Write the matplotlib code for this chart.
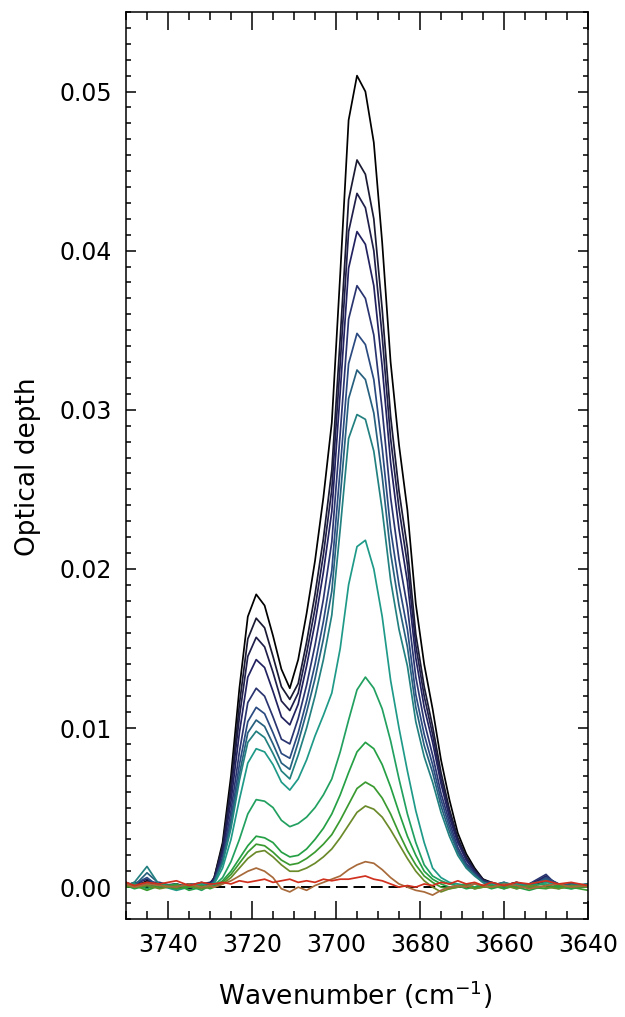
import numpy as np
import matplotlib
matplotlib.use("Agg")
from matplotlib import pyplot as plt
from matplotlib.ticker import MultipleLocator

#%% data: optical depth spectra, values in units of 1e-3

wavenumber = [3750, 3748, 3745, 3742, 3738, 3735, 3732, 3730,
              3729, 3727, 3725, 3723, 3721, 3719, 3717, 3715, 3713, 3711,
              3709, 3707, 3705, 3703, 3701, 3699, 3697, 3695, 3693, 3691,
              3689, 3687, 3685, 3683, 3681, 3679, 3677, 3675, 3673, 3671,
              3669, 3667, 3665,
              3663, 3660, 3657, 3654, 3650, 3647, 3644, 3640]

tau_00 = [0.2, 0.0, 0.4, 0.1, -0.1, 0.2, 0.0, 0.2,
          0.6, 2.8, 7.0, 12.5, 17.0, 18.4, 17.7, 15.8, 13.7, 12.5,
          14.3, 17.2, 20.5, 24.5, 29.2, 38.5, 48.2, 51.0, 50.0, 46.8,
          40.5, 33.0, 27.8, 23.7, 17.8, 14.0, 11.2, 8.0, 5.5, 3.4,
          2.1, 1.2, 0.5,
          0.3, 0.1, 0.3, 0.0, 0.4, 0.1, 0.2, 0.0]
tau_01 = [0.1, 0.3, 0.2, 0.0, 0.2, -0.1, 0.1, 0.2,
          0.6, 2.6, 6.4, 11.5, 15.6, 16.9, 16.3, 14.5, 12.6, 11.8,
          12.8, 15.4, 18.4, 21.9, 26.2, 34.5, 43.2, 45.7, 44.8, 42.0,
          36.3, 29.6, 24.9, 21.3, 15.9, 12.6, 10.1, 7.2, 4.9, 3.1,
          1.9, 1.1, 0.5,
          0.2, 0.0, 0.2, 0.1, 0.5, 0.0, 0.2, 0.1]
tau_02 = [0.3, 0.1, 0.3, 0.2, 0.0, 0.1, 0.3, 0.1,
          0.5, 2.4, 6.0, 10.7, 14.5, 15.7, 15.1, 13.5, 11.7, 11.1,
          12.2, 14.7, 17.5, 20.9, 25.0, 32.9, 41.2, 43.6, 42.7, 40.0,
          34.6, 28.2, 23.8, 20.3, 15.2, 12.0, 9.6, 6.8, 4.7, 2.9,
          1.8, 1.0, 0.4,
          0.1, 0.3, 0.0, 0.2, 0.6, 0.2, 0.0, 0.2]
tau_03 = [0.0, 0.2, 0.5, 0.1, 0.2, 0.0, 0.2, 0.3,
          0.5, 2.2, 5.4, 9.7, 13.2, 14.3, 13.8, 12.3, 10.7, 10.2,
          11.5, 13.9, 16.6, 19.8, 23.6, 31.1, 38.9, 41.2, 40.4, 37.8,
          32.7, 26.7, 22.5, 19.2, 14.4, 11.3, 9.1, 6.5, 4.4, 2.8,
          1.7, 1.0, 0.4,
          0.2, 0.1, 0.3, 0.1, 0.7, 0.1, 0.1, 0.0]
tau_04 = [0.2, 0.0, 0.3, 0.3, 0.0, 0.2, 0.1, 0.0,
          0.4, 1.9, 4.8, 8.5, 11.6, 12.5, 12.0, 10.7, 9.3, 9.0,
          10.6, 12.7, 15.2, 18.1, 21.7, 28.5, 35.7, 37.8, 37.0, 34.7,
          30.0, 24.5, 20.6, 17.6, 13.2, 10.4, 8.3, 5.9, 4.1, 2.5,
          1.5, 0.9, 0.4,
          0.3, 0.0, 0.2, 0.2, 0.8, 0.0, 0.2, 0.1]
tau_05 = [0.1, 0.2, 0.6, 0.0, 0.1, 0.1, 0.2, 0.1,
          0.4, 1.7, 4.3, 7.7, 10.4, 11.3, 10.9, 9.7, 8.4, 8.1,
          9.7, 11.7, 14.0, 16.7, 19.9, 26.3, 32.9, 34.8, 34.1, 31.9,
          27.6, 22.5, 19.0, 16.2, 12.1, 9.6, 7.7, 5.5, 3.8, 2.3,
          1.4, 0.8, 0.3,
          0.1, 0.2, 0.1, 0.0, 0.6, 0.2, 0.0, 0.2]
tau_06 = [0.2, 0.1, 0.9, 0.2, 0.0, 0.2, 0.1, 0.2,
          0.3, 1.6, 4.0, 7.1, 9.7, 10.5, 10.1, 9.0, 7.8, 7.4,
          9.1, 11.0, 13.1, 15.6, 18.6, 24.5, 30.7, 32.5, 31.9, 29.8,
          25.8, 21.0, 17.7, 15.1, 11.3, 8.9, 7.2, 5.1, 3.5, 2.2,
          1.3, 0.8, 0.3,
          0.2, 0.0, 0.2, 0.1, 0.5, 0.1, 0.2, 0.0]
tau_07 = [0.1, 0.3, 1.3, 0.1, 0.1, 0.0, 0.2, 0.1,
          0.3, 1.5, 3.7, 6.7, 9.1, 9.8, 9.4, 8.4, 7.3, 6.8,
          8.3, 10.0, 12.0, 14.3, 17.1, 22.5, 28.2, 29.7, 29.4, 27.4,
          23.7, 19.3, 16.2, 13.9, 10.4, 8.2, 6.6, 4.7, 3.2, 2.0,
          1.2, 0.7, 0.3,
          0.1, 0.3, 0.1, 0.2, 0.4, 0.0, 0.1, 0.2]
tau_08 = [0.2, 0.0, 0.2, 0.1, -0.2, 0.0, 0.2, 0.0,
          0.2, 1.2, 3.0, 5.5, 7.8, 8.7, 8.5, 7.7, 6.6, 6.1,
          6.8, 8.0, 9.5, 10.8, 12.2, 15.0, 19.0, 21.4, 21.8, 20.0,
          17.0, 13.0, 10.0, 7.3, 4.8, 2.8, 1.2, 0.6, 0.3, 0.2,
          0.1, 0.2, 0.0,
          0.2, -0.1, 0.2, 0.0, 0.3, 0.1, -0.1, 0.1]
tau_09 = [0.0, 0.2, -0.1, 0.2, 0.0, 0.1, -0.2, 0.1,
          0.1, 0.6, 1.6, 3.0, 4.6, 5.5, 5.4, 5.0, 4.2, 3.8,
          4.0, 4.4, 5.0, 5.8, 6.8, 8.5, 10.5, 12.4, 13.2, 12.5,
          11.2, 9.2, 6.8, 4.6, 2.8, 1.4, 0.7, 0.4, 0.2, 0.1,
          0.2, 0.0, 0.1,
          0.0, 0.2, -0.1, 0.1, 0.2, -0.1, 0.1, 0.0]
tau_10 = [0.1, -0.1, 0.1, 0.0, 0.2, -0.2, 0.0, 0.1,
          0.0, 0.4, 1.0, 1.8, 2.6, 3.2, 3.1, 2.8, 2.2, 1.9,
          2.0, 2.4, 3.0, 3.7, 4.6, 5.8, 7.2, 8.5, 9.1, 8.7,
          7.7, 6.3, 4.7, 3.2, 2.0, 1.0, 0.5, 0.2, 0.0, 0.1,
          -0.1, 0.0, 0.1,
          -0.1, 0.1, 0.0, -0.2, 0.1, 0.0, -0.1, 0.1]
tau_11 = [0.0, 0.1, -0.2, 0.1, -0.1, 0.0, 0.1, -0.1,
          0.0, 0.3, 0.8, 1.5, 2.2, 2.7, 2.6, 2.2, 1.7, 1.4,
          1.5, 1.8, 2.2, 2.7, 3.3, 4.2, 5.2, 6.2, 6.6, 6.3,
          5.6, 4.6, 3.4, 2.3, 1.4, 0.7, 0.3, 0.0, -0.1, 0.0,
          0.1, -0.1, 0.0,
          0.1, -0.1, 0.1, 0.0, -0.1, 0.1, 0.0, -0.2]
tau_12 = [0.1, 0.0, 0.1, -0.1, 0.1, 0.1, -0.1, 0.0,
          0.0, 0.2, 0.6, 1.2, 1.8, 2.2, 2.3, 1.9, 1.4, 1.0,
          1.0, 1.2, 1.5, 1.9, 2.4, 3.1, 3.9, 4.7, 5.1, 4.9,
          4.4, 3.6, 2.7, 1.8, 1.0, 0.4, 0.0, -0.3, -0.1, 0.0,
          0.1, -0.1, 0.0,
          0.0, 0.1, -0.1, 0.1, 0.0, -0.1, 0.1, 0.0]
tau_13 = [0.2, 0.0, 0.2, 0.1, 0.0, 0.2, 0.0, 0.1,
          0.0, 0.2, 0.4, 0.7, 1.0, 1.2, 1.0, 0.6, -0.1, -0.3,
          0.0, -0.2, 0.1, 0.3, 0.5, 0.7, 1.1, 1.4, 1.6, 1.5,
          1.1, 0.6, 0.2, 0.0, -0.2, -0.3, -0.5, -0.2, 0.0, 0.1,
          0.0, 0.2, 0.1,
          0.0, 0.2, 0.1, -0.1, 0.1, 0.2, 0.0, 0.1]
tau_14 = [0.3, 0.1, 0.3, 0.2, 0.4, 0.1, 0.3, 0.2,
          0.2, 0.3, 0.2, 0.4, 0.3, 0.4, 0.5, 0.3, 0.4, 0.5,
          0.3, 0.4, 0.3, 0.5, 0.4, 0.5, 0.5, 0.6, 0.7, 0.5,
          0.4, 0.2, 0.0, 0.1, 0.0, 0.2, 0.1, 0.3, 0.2, 0.4,
          0.2, 0.3, 0.1,
          0.3, 0.1, 0.3, 0.2, 0.4, 0.2, 0.3, 0.1]

spectra = [tau_00, tau_01, tau_02, tau_03, tau_04, tau_05, tau_06, tau_07,
           tau_08, tau_09, tau_10, tau_11, tau_12, tau_13, tau_14]
colors = ["#000000", "#1a1a33", "#1f1f4a", "#222260", "#2a3570",
          "#2a4a80", "#27607f", "#238080", "#1f9a88", "#22a060",
          "#25a045", "#3a9a30", "#6b8a2a", "#a86a3a", "#d0301e"]

#%%

fig = plt.figure(figsize=(6.25, 10.17), dpi=100)
ax = fig.add_axes([0.2016, 0.0964, 0.7392, 0.8918])

ax.axhline(0, color="k", lw=1.4, dashes=(6, 3), zorder=1)
for tau, col in zip(spectra, colors):
    ax.plot(wavenumber, np.array(tau) * 1e-3, color=col, lw=1.25, zorder=2)

ax.set_xlim(3750, 3640)
ax.set_ylim(-0.002, 0.055)

ax.xaxis.set_major_locator(MultipleLocator(20))
ax.xaxis.set_minor_locator(MultipleLocator(5))
ax.yaxis.set_major_locator(MultipleLocator(0.01))
ax.yaxis.set_minor_locator(MultipleLocator(0.001))
ax.yaxis.set_major_formatter(matplotlib.ticker.FormatStrFormatter("%.2f"))

ax.tick_params(axis="both", which="both", direction="in", top=True, right=True,
               labelsize=17, width=1.1)
ax.tick_params(axis="x", which="major", length=13, pad=10)
ax.tick_params(axis="x", which="minor", length=6)
ax.tick_params(axis="y", which="major", length=7.5, pad=10)
ax.tick_params(axis="y", which="minor", length=3.8)
for sp in ax.spines.values():
    sp.set_linewidth(1.1)

fig.text(0.045, 0.541, "Optical depth", rotation=90, ha="center", va="center",
         fontsize=19)
fig.text(0.568, 0.0216, "Wavenumber (cm$^{-1}$)", ha="center", va="center",
         fontsize=19)

fig.savefig("out.png", dpi=100)
